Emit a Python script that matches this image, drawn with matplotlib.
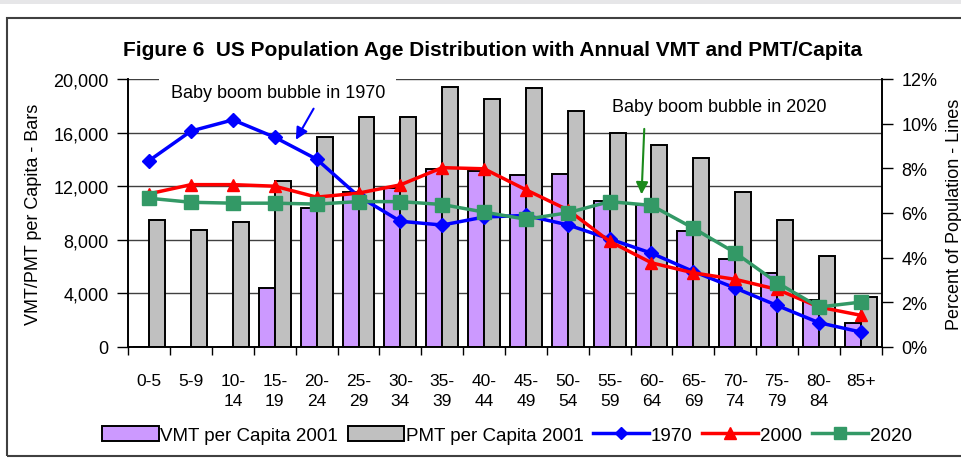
import matplotlib.pyplot as plt
from matplotlib.patches import Patch, Rectangle
from matplotlib.lines import Line2D
from matplotlib.ticker import FuncFormatter, MultipleLocator
import numpy as np

plt.rcParams['font.family'] = ['Liberation Sans', 'DejaVu Sans']

# age groups
ages = ['0-5', '5-9', '10-\n14', '15-\n19', '20-\n24', '25-\n29', '30-\n34', '35-\n39', '40-\n44',
        '45-\n49', '50-\n54', '55-\n59', '60-\n64', '65-\n69', '70-\n74', '75-\n79', '80-\n84', '85+']

# annual miles per capita, 2001 (bars)
vmt_2001 = [0, 0, 0, 4400, 10400, 11600, 11900, 13300, 13100,
            12800, 12900, 10900, 10600, 8650, 6600, 5500, 3500, 1800]
pmt_2001 = [9500, 8700, 9300, 12400, 15700, 17200, 17200, 19400, 18500,
            19300, 17600, 16000, 15100, 14100, 11600, 9500, 6800, 3700]

# share of population by age group, % (lines)
pop_1970 = [8.35, 9.67, 10.17, 9.39, 8.41, 6.75, 5.63, 5.46, 5.82,
            5.89, 5.47, 4.84, 4.20, 3.38, 2.64, 1.86, 1.09, 0.67]
pop_2000 = [6.86, 7.27, 7.27, 7.20, 6.71, 6.89, 7.26, 8.03, 7.98,
            7.04, 6.14, 4.73, 3.77, 3.32, 3.03, 2.58, 1.79, 1.42]
pop_2020 = [6.66, 6.48, 6.44, 6.44, 6.40, 6.51, 6.51, 6.38, 6.04,
            5.72, 6.01, 6.51, 6.34, 5.32, 4.22, 2.88, 1.79, 2.01]

W, H = 961, 460
fig = plt.figure(figsize=(W / 100, H / 100), dpi=100, facecolor='white')

# outer frame
fig.patches.append(Rectangle((0, 1 - 5 / H), 1, 5 / H, transform=fig.transFigure,
                             facecolor='#e6e6e8', edgecolor='none'))
fig.patches.append(Rectangle((7 / W, 1 - 457 / H), 1.0, (457 - 19) / H, transform=fig.transFigure,
                             facecolor='none', edgecolor='#404040', lw=1.5))

ax = fig.add_axes([128.3 / W, 1 - 348 / H, (881.7 - 128.3) / W, (348 - 80) / H])
ax2 = ax.twinx()

x = np.arange(len(ages))
bw = 0.38
ax.bar(x, vmt_2001, width=-bw, align='edge', color='#cc99ff', edgecolor='black', lw=1.4, zorder=2)
ax.bar(x, pmt_2001, width=bw, align='edge', color='#c0c0c0', edgecolor='black', lw=1.4, zorder=2)

ax.set_xlim(-0.5, len(ages) - 0.5)
ax.set_ylim(0, 20000)
ax.yaxis.set_major_locator(MultipleLocator(4000))
ax.yaxis.set_major_formatter(FuncFormatter(lambda v, p: f'{int(v):,}'))
ax.set_axisbelow(True)
ax.grid(axis='y', color='#404040', lw=1)
ax.set_xticks(x)
ax.set_xticklabels(ages, fontsize=12.5, linespacing=1.4, va='top')
ax.set_xticks(np.arange(-0.5, len(ages)), minor=True)
ax.tick_params(axis='x', which='major', length=0, pad=19)
ax.tick_params(axis='x', which='minor', length=6, width=1)
ax.tick_params(axis='y', length=8, width=1, labelsize=13, pad=6)
ax.set_ylabel('VMT/PMT per Capita - Bars', fontsize=13, labelpad=8)

for a in (ax, ax2):
    a.spines['top'].set_visible(False)
    for s in ('left', 'right', 'bottom'):
        a.spines[s].set_linewidth(1.2)

ax2.set_ylim(0, 12)
ax2.yaxis.set_major_locator(MultipleLocator(2))
ax2.yaxis.set_major_formatter(FuncFormatter(lambda v, p: f'{int(v)}%'))
ax2.tick_params(axis='y', length=8, width=1, labelsize=13, pad=6)
ax2.set_ylabel('Percent of Population - Lines', fontsize=13, labelpad=6)

ax2.plot(x, pop_1970, color='#0000ff', lw=2.5, marker='D', ms=7, zorder=3)
ax2.plot(x, pop_2000, color='#ff0000', lw=2.5, marker='^', ms=9, zorder=4)
ax2.plot(x, pop_2020, color='#339966', lw=2.5, marker='s', ms=10, zorder=5)

ax2.text(3.07, 11.41, 'Baby boom bubble in 1970', ha='center', va='center', fontsize=13,
         bbox=dict(facecolor='white', edgecolor='none', pad=8), zorder=6)
ax2.annotate('', xy=(3.47, 9.17), xytext=(3.96, 10.78), zorder=7,
             arrowprops=dict(arrowstyle='-|>', color='#0000ff', lw=1.5, mutation_scale=18))
ax2.text(13.63, 10.78, 'Baby boom bubble in 2020', ha='center', va='center', fontsize=13, zorder=6)
ax2.annotate('', xy=(11.76, 6.71), xytext=(11.83, 9.89), zorder=7,
             arrowprops=dict(arrowstyle='-|>', color='#1a8a1a', lw=1.5, mutation_scale=18))

fig.text(493 / W, 1 - 50 / H, 'Figure 6  US Population Age Distribution with Annual VMT and PMT/Capita',
         ha='center', va='center', fontsize=15, fontweight='bold')

handles = [
    Patch(facecolor='#cc99ff', edgecolor='black', lw=1.4),
    Patch(facecolor='#c0c0c0', edgecolor='black', lw=1.4),
    Line2D([], [], color='#0000ff', lw=2.5, marker='D', ms=6),
    Line2D([], [], color='#ff0000', lw=2.5, marker='^', ms=8),
    Line2D([], [], color='#339966', lw=2.5, marker='s', ms=9),
]
labels = ['VMT per Capita 2001', 'PMT per Capita 2001', '1970', '2000', '2020']
fig.legend(handles, labels, loc='center', bbox_to_anchor=(507 / W, 1 - 436 / H), ncol=5,
           frameon=False, prop={'size': 13.5}, handlelength=3.0,
           handletextpad=0.1, columnspacing=0.5, handleheight=0.9)

fig.savefig('out.png', dpi=100)
